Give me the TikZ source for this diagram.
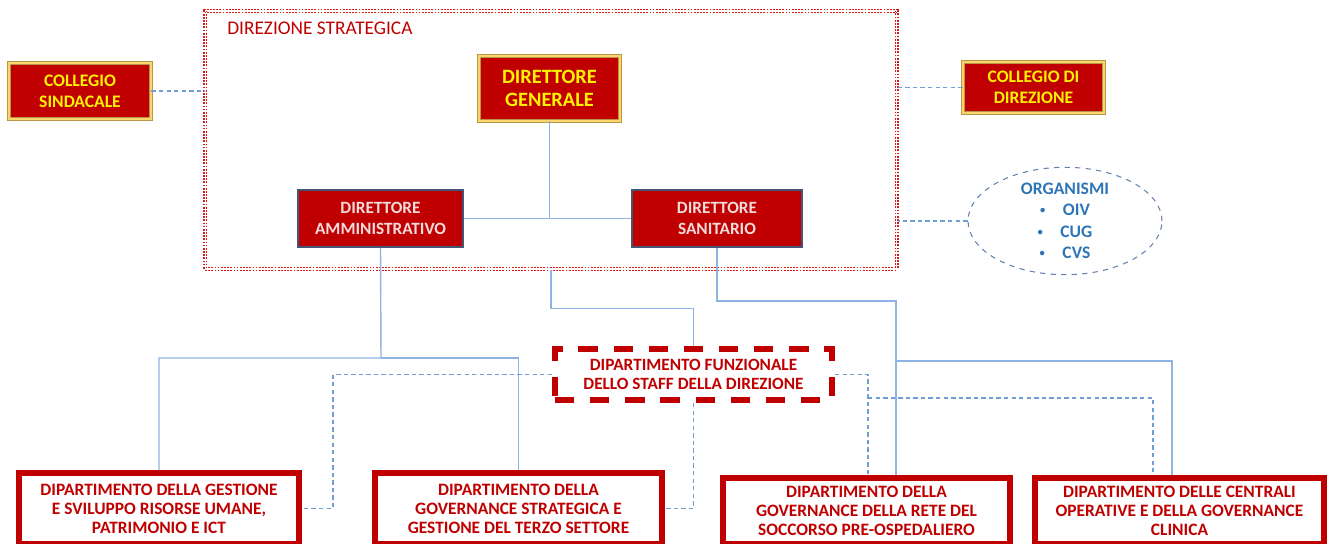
\documentclass[tikz,border=0pt]{standalone}
\usepackage{fontspec}
\setmainfont{Carlito}
\usetikzlibrary{calc}
\usetikzlibrary{shapes.geometric}
\definecolor{boxred}{RGB}{192,0,0}
\definecolor{dotred}{RGB}{220,25,25}
\definecolor{paletext}{RGB}{242,220,219}
\definecolor{goldline}{RGB}{185,150,70}
\definecolor{goldfill}{RGB}{250,215,110}
\definecolor{slate}{RGB}{70,85,115}
\definecolor{linkblue}{RGB}{141,180,226}
\definecolor{dashblue}{RGB}{110,160,215}
\definecolor{orgblue}{RGB}{46,117,182}
\definecolor{orgline}{RGB}{100,130,175}
\newcommand{\smallbullet}{\raisebox{1.2pt}{\fontsize{6}{6}\selectfont\textbullet}}
\tikzstyle{gold}=[draw=goldline,double=goldfill,double distance=1.1pt,line width=0.5pt,fill=boxred,text=yellow,inner sep=0pt,align=center,font=\fontsize{10}{12}\selectfont\bfseries]
\tikzstyle{director}=[draw=slate,line width=0.9pt,fill=boxred,text=paletext,inner sep=0pt,minimum height=1.14cm,align=center,font=\fontsize{9.8}{12.4}\selectfont\bfseries]
\tikzstyle{strategic}=[draw=dotred,double=white,double distance=0.6pt,line width=0.7pt,dash pattern=on 1pt off 0.8pt,inner sep=0pt]
\tikzstyle{staff}=[draw=boxred,line width=3.4pt,dash pattern=on 11pt off 9pt,text=boxred,inner sep=0pt,align=center,font=\fontsize{9.8}{10.4}\selectfont\bfseries]
\tikzstyle{dept}=[draw=boxred,line width=3.4pt,fill=white,text=boxred,inner sep=0pt,align=center,font=\fontsize{9.9}{10.8}\selectfont\bfseries]
\tikzstyle{organ}=[ellipse,draw=orgline,dashed,line width=0.6pt,text=orgblue,inner sep=0pt,align=center,font=\fontsize{10}{12.2}\selectfont\bfseries]
\tikzstyle{link}=[linkblue,line width=0.8pt]
\tikzstyle{dlink}=[dashblue,line width=0.6pt,dash pattern=on 2.5pt off 1.8pt]

\begin{document}
\begin{tikzpicture}[x=0.02cm,y=-0.02cm]

  \useasboundingbox (0,0) rectangle (1333,544);

  % direzione strategica
  \node[strategic,minimum width=13.84cm,minimum height=5.16cm] (strat) at (551,140) {};
  \node[anchor=west,text=boxred,inner sep=0pt,font=\fontsize{11}{13}\selectfont] (stratlabel) at (227,28) {DIREZIONE STRATEGICA};

  % top boxes
  \node[gold,minimum width=2.84cm,minimum height=1.12cm] (cs) at (80,91) {COLLEGIO\\SINDACALE};
  \node[gold,minimum width=2.82cm,minimum height=1.30cm,font=\fontsize{11.6}{13.2}\selectfont\bfseries] (dg) at (549.5,88.5) {DIRETTORE\\GENERALE};
  \node[gold,minimum width=2.82cm,minimum height=1.02cm] (cd) at (1033.5,87.5) {COLLEGIO DI\\DIREZIONE};
  \node[director,minimum width=3.30cm] (da) at (380.5,218.5) {DIRETTORE\\AMMINISTRATIVO};
  \node[director,minimum width=3.40cm] (dsan) at (717,218.5) {DIRETTORE\\SANITARIO};
  \node[organ,minimum width=3.88cm,minimum height=1.92cm] (org) at (1065,221)
    {ORGANISMI\\\smallbullet\hspace{10pt}OIV\\\smallbullet\hspace{10pt}CUG\\\smallbullet\hspace{10pt}CVS};

  % staff and departments
  \node[staff,minimum width=5.54cm,minimum height=1.02cm] (staff) at (693.5,374.5)
    {DIPARTIMENTO FUNZIONALE\\DELLO STAFF DELLA DIREZIONE};
  \node[dept,minimum width=5.60cm,minimum height=1.42cm] (gest) at (159,508.5)
    {DIPARTIMENTO DELLA GESTIONE\\E SVILUPPO RISORSE UMANE,\\PATRIMONIO E ICT};
  \node[dept,minimum width=5.74cm,minimum height=1.42cm] (gov) at (518.5,508.5)
    {DIPARTIMENTO DELLA\\GOVERNANCE STRATEGICA E\\GESTIONE DEL TERZO SETTORE};
  \node[dept,minimum width=5.74cm,minimum height=1.32cm] (rete) at (866.5,511)
    {DIPARTIMENTO DELLA\\GOVERNANCE DELLA RETE DEL\\SOCCORSO PRE-OSPEDALIERO};
  \node[dept,minimum width=5.78cm,minimum height=1.32cm] (cent) at (1179.5,511)
    {DIPARTIMENTO DELLE CENTRALI\\OPERATIVE E DELLA GOVERNANCE\\CLINICA};

  % junctions
  \coordinate (ja) at (381,358);
  \coordinate (jr) at (896,301);
  \coordinate (jc) at (896,361);
  \coordinate (kc) at (1172,361);
  \coordinate (kg) at (333,440);
  \coordinate (kr) at (868,398);
  \coordinate (kk) at (1153,398);

  % solid links
  \draw[link] (dg.south) -- (dg.south |- da.east);
  \draw[link] (da.east) -- (dsan.west);
  \draw[link] (da.south) -- (ja) -| (gest.north);
  \draw[link] (ja) -| (gov.north);
  \draw[link] (strat.south) -- ++(0,39) -| (staff.north);
  \draw[link] (dsan.south) |- (jr) -- (jr |- rete.north);
  \draw[link] (jc) -- (kc) -- (kc |- cent.north);

  % dashed links
  \draw[dlink] (cs.east) -- (cs.east -| strat.west);
  \draw[dlink] (cd.west) -- (cd.west -| strat.east);
  \draw[dlink] (org.west) -- (org.west -| strat.east);
  \draw[dlink] (staff.west) -- (staff.west -| kg) |- (gest.east);
  \draw[dlink] (staff.south) |- (gov.east);
  \draw[dlink] (staff.east) -| (kr) -- (kr |- rete.north);
  \draw[dlink] (kr) -- (kk) -- (kk |- cent.north);

\end{tikzpicture}
\end{document}
